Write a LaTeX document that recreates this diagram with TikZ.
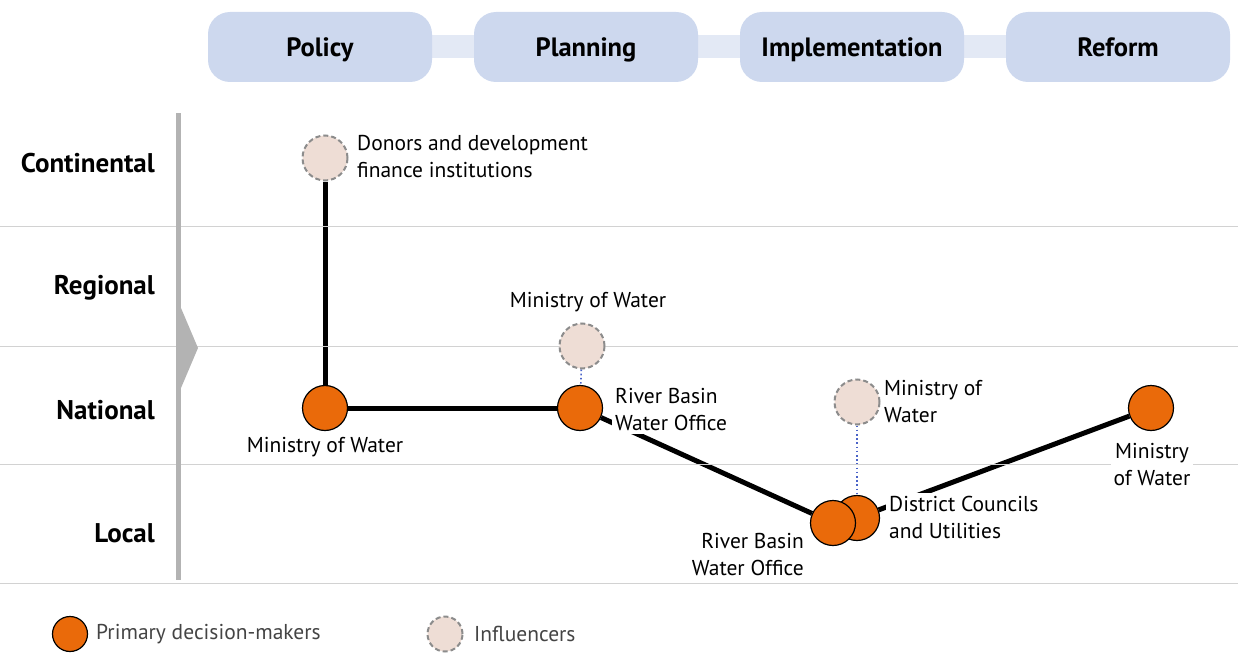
\documentclass[tikz,border=0pt]{standalone}
\usepackage{fontspec}
\setmainfont{PT Sans}
\usetikzlibrary{backgrounds}

\definecolor{orangefill}{HTML}{EA6A0A}
\definecolor{pinkfill}{HTML}{EEDDD5}
\definecolor{dashgray}{HTML}{8C8C8C}
\definecolor{boxblue}{HTML}{CDD8EE}
\definecolor{bandblue}{HTML}{E3E9F5}
\definecolor{gridgray}{HTML}{D2D2D2}
\definecolor{bargray}{HTML}{B3B3B3}
\definecolor{dotblue}{HTML}{4A63C8}
\definecolor{legendtext}{HTML}{444444}

\tikzstyle{label} = [font=\fontsize{21.5}{27}\selectfont,inner sep=3pt]
\tikzstyle{level} = [font=\fontsize{27}{30}\selectfont\bfseries,anchor=east,inner sep=0pt]
\tikzstyle{stage} = [rounded corners=22pt,fill=boxblue,minimum width=224pt,minimum height=70pt,text height=19pt,text depth=0pt,font=\fontsize{26.5}{30}\selectfont\bfseries]
\tikzstyle{primary}=[circle,draw=black,line width=1.2pt,fill=orangefill,minimum size=45pt,inner sep=0pt]
\tikzstyle{influencer}=[circle,draw=dashgray,dash pattern=on 5pt off 3pt,line width=2pt,fill=pinkfill,minimum size=45pt,inner sep=0pt]
\tikzstyle{link edge} = [draw,line width=5pt,-,black]
\tikzstyle{dotted edge} = [draw,line width=1.6pt,dash pattern=on 1.6pt off 2.6pt,dotblue]
\tikzstyle{grid line} = [draw,line width=1pt,gridgray]

\begin{document}
\begin{tikzpicture}[x=1pt,y=-1pt]
      \useasboundingbox (0,0) rectangle (1238,666);
      %stages
      \foreach \nodename/\x/\text in {policy/320/Policy, planning/586/Planning, implementation/852/Implementation, reform/1118/Reform}
      {
        \node[stage] (\nodename) at (\x,47) {\text};
      };
      \begin{pgfonlayer}{background}
        \path[draw,line width=23pt,bandblue] (policy.center) -- (reform.center);
      \end{pgfonlayer}
      %levels
      \foreach \y/\text in {163/Continental, 288/Regional, 410/National, 533/Local}
      {
        \node[level] at (155,\y) {\text};
      };
      \foreach \y in {226,346,464,583}
      {
        \path[grid line] (0,\y) -- (1238,\y);
      };
      \fill[bargray] (176,113) rectangle (181,580);
      \fill[bargray] (181,308) -- (198,348) -- (181,388) -- cycle;
      %nodes
      \foreach \nodename/\x/\y/\kind in {
        donors/325/158/influencer,
        mownat/325/408/primary,
        mowinf/582/346/influencer,
        rbwonat/580/408/primary,
        dcinf/857/402/influencer,
        dcloc/857/518/primary,
        rbwoloc/833/523/primary,
        mowref/1151/408/primary}
      {
        \node[\kind] (\nodename) at (\x,\y) {};
      };
      %edges
      \begin{pgfonlayer}{background}
        \path
        \foreach \startnode/\endnode in {donors/mownat, mownat/rbwonat, rbwonat/rbwoloc, dcloc/mowref}
        {
          (\startnode) edge[link edge] (\endnode)
        };
        \path
        \foreach \startnode/\endnode in {mowinf/rbwonat, dcinf/dcloc}
        {
          (\startnode) edge[dotted edge] (\endnode)
        };
      \end{pgfonlayer}
      %labels
      \foreach \nodename/\anchor/\dx/\dy/\align/\fillcolor/\text in {
        donors/west/29/-1.5/left/none/{Donors and development\\finance institutions},
        mownat/center/0/39/center/none/{Ministry of Water},
        mowinf/center/6/-44/center/none/{Ministry of Water},
        rbwonat/west/32/2/left/white/{River Basin\\Water Office},
        dcinf/west/24/0/left/none/{Ministry of\\Water},
        dcloc/west/29/-1/left/white/{District Councils\\and Utilities},
        rbwoloc/east/-26/32/right/none/{River Basin\\Water Office},
        mowref/center/1/57/center/white/{Ministry\\of Water}}
      {
        \node[label,anchor=\anchor,align=\align,fill=\fillcolor] (\nodename-label) at ([shift={(\dx,\dy)}]\nodename.center) {\text};
      };
      %legend
      \node[primary,minimum size=35pt] (keyprimary) at (70,634) {};
      \node[label,anchor=west,text=legendtext] (keyprimary-label) at (93,634) {Primary decision-makers};
      \node[influencer,minimum size=35pt] (keyinfluencer) at (445,634) {};
      \node[label,anchor=west,text=legendtext] (keyinfluencer-label) at (471,634) {Influencers};
    \end{tikzpicture}
\end{document}
